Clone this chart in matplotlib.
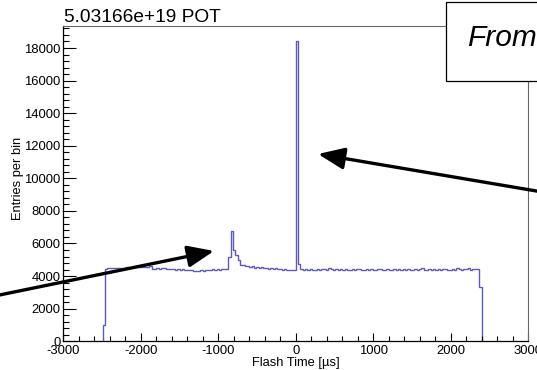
import matplotlib
matplotlib.use("Agg")
import matplotlib.pyplot as plt
import numpy as np
from matplotlib.patches import Rectangle, FancyArrowPatch
from matplotlib.ticker import MultipleLocator

plt.rcParams["font.family"] = ["Liberation Sans", "DejaVu Sans"]
plt.rcParams["axes.unicode_minus"] = False

W, H = 537, 370

# histogram of flash times, 30 us bins starting at -2490 us
BIN_START = -2490
BIN_WIDTH = 30

first_bin = [1000]
left_plateau = [
    4450, 4470, 4480, 4470, 4500, 4490, 4520, 4500, 4510, 4540,
    4520, 4550, 4530, 4560, 4540, 4570, 4550, 4580, 4560, 4590,
    4420, 4440, 4480, 4460, 4500, 4470, 4430, 4450, 4410, 4440,
    4400, 4420, 4380, 4410, 4360, 4390, 4350, 4380, 4340, 4300,
    4320, 4360, 4340, 4380, 4400, 4370, 4420, 4390, 4430, 4400,
    4440, 4420, 4410,
]
early_bump = [5200, 6770, 5600, 5300, 5000, 4700]
middle_plateau = [
    4650, 4620, 4600, 4560, 4600, 4520, 4540, 4500, 4560, 4480,
    4500, 4460, 4520, 4440, 4480, 4420, 4460, 4400, 4420, 4380,
    4400, 4360, 4380,
]
beam_peak = [18450, 4750]
right_plateau = [
    4420, 4400, 4450, 4380, 4420, 4360, 4400, 4440, 4380, 4420,
    4460, 4400, 4480, 4420, 4380, 4440, 4400, 4460, 4380, 4420,
    4350, 4400, 4440, 4380, 4420, 4460, 4400, 4360, 4420, 4380,
    4440, 4400, 4360, 4420, 4460, 4400, 4380, 4440, 4400, 4360,
    4420, 4380, 4460, 4400, 4440, 4380, 4420, 4360, 4400, 4440,
    4380, 4420, 4470, 4400, 4360, 4420, 4380, 4440, 4400, 4460,
    4380, 4420, 4460, 4400, 4360, 4440, 4400, 4470, 4420, 4380,
    4460, 4420, 4480, 4400, 4440, 4460, 4420,
]
last_bin = [3300]

counts = np.array(first_bin + left_plateau + early_bump + middle_plateau
                  + beam_peak + right_plateau + last_bin, dtype=float)
edges = BIN_START + BIN_WIDTH * np.arange(len(counts) + 1)

title = "5.03166e+19 POT"
xlabel = "Flash Time [\u00b5s]"
ylabel = "Entries per bin"
box_text = "From"


def fig_xy(x, y):
    # pixel position measured from top-left -> figure fraction
    return x / W, 1 - y / H


def main() -> None:
    fig = plt.figure(figsize=(W / 100, H / 100), dpi=100)
    ax = fig.add_axes([63.3 / W, (H - 341.2) / H, 465 / W, 315.5 / H])

    ax.stairs(counts, edges, color="#5c5cb8", linewidth=1.0, baseline=0)

    ax.set_xlim(-3000, 3000)
    ax.set_ylim(0, 19370)
    ax.xaxis.set_major_locator(MultipleLocator(1000))
    ax.xaxis.set_minor_locator(MultipleLocator(200))
    ax.yaxis.set_major_locator(MultipleLocator(2000))
    ax.yaxis.set_minor_locator(MultipleLocator(400))

    ax.tick_params(axis="both", which="both", direction="in", top=False, right=False,
                   labelsize=9.4, colors="black")
    ax.tick_params(axis="y", which="major", length=9, width=0.8, pad=2)
    ax.tick_params(axis="y", which="minor", length=4.5, width=0.8)
    ax.tick_params(axis="x", which="major", length=6, width=0.8, pad=3)
    ax.tick_params(axis="x", which="minor", length=3.5, width=0.8)

    for side in ["left", "bottom"]:
        ax.spines[side].set_color("black")
        ax.spines[side].set_linewidth(0.9)
    for side in ["top", "right"]:
        ax.spines[side].set_color("#666666")
        ax.spines[side].set_linewidth(0.8)

    fig.text(*fig_xy(64, 21.7), title, fontsize=13.8, ha="left", va="baseline")
    fig.text(*fig_xy(296, 363), xlabel, fontsize=9.3, ha="center", va="center")
    fig.text(*fig_xy(18, 178), ylabel, fontsize=9.3, ha="center", va="center",
             rotation=90)

    # text box, cut off at the right edge
    x0, y0 = fig_xy(445.7, 81)
    fig.add_artist(Rectangle((x0, y0), 200 / W, 79 / H, transform=fig.transFigure,
                             facecolor="white", edgecolor="black", linewidth=0.9,
                             zorder=5))
    fig.text(*fig_xy(467, 46), box_text, fontsize=21.5, style="italic",
             ha="left", va="baseline", zorder=6)

    # arrows
    for tail, tip in [((560, 195), (318, 154)), ((-20, 299), (214, 251))]:
        arrow = FancyArrowPatch(fig_xy(*tail), fig_xy(*tip), transform=fig.transFigure,
                                arrowstyle="-|>,head_length=0.8,head_width=0.33",
                                mutation_scale=20, linewidth=2.4, color="black",
                                shrinkA=0, shrinkB=0, zorder=7)
        fig.add_artist(arrow)

    fig.savefig("out.png", dpi=100)
    plt.close(fig)


if __name__ == "__main__":
    main()
